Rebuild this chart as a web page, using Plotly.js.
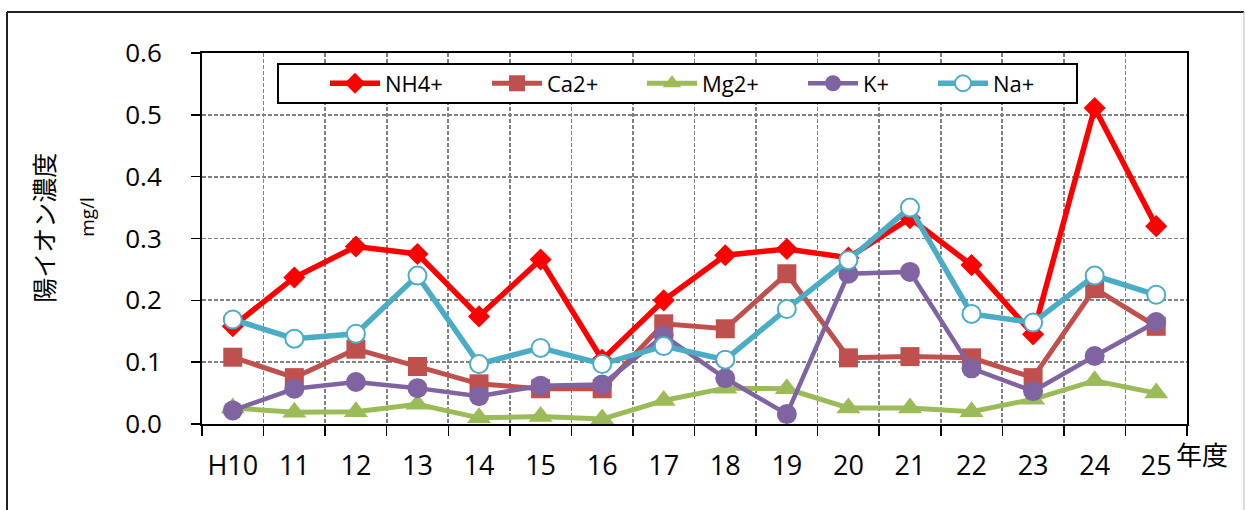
<!DOCTYPE html>
<html>
<head>
<meta charset="utf-8">
<script src="https://cdn.plot.ly/plotly-3.0.1.min.js"></script>
<style>
html,body{margin:0;padding:0;background:#fff;}
#chart{width:1245px;height:510px;}
</style>
</head>
<body>
<div id="chart"></div>
<script>
const categories = ['H10','11','12','13','14','15','16','17','18','19','20','21','22','23','24','25'];
const nh4 = [0.158, 0.237, 0.287, 0.275, 0.174, 0.266, 0.104, 0.200, 0.273, 0.283, 0.269, 0.333, 0.257, 0.145, 0.511, 0.320];
const ca2 = [0.108, 0.075, 0.121, 0.093, 0.065, 0.057, 0.057, 0.162, 0.154, 0.243, 0.107, 0.109, 0.107, 0.075, 0.219, 0.158];
const mg2 = [0.026, 0.019, 0.020, 0.032, 0.010, 0.012, 0.008, 0.038, 0.058, 0.057, 0.026, 0.026, 0.020, 0.040, 0.070, 0.050];
const kp  = [0.022, 0.057, 0.068, 0.058, 0.045, 0.062, 0.064, 0.143, 0.074, 0.016, 0.243, 0.246, 0.090, 0.053, 0.110, 0.165];
const nap = [0.169, 0.138, 0.146, 0.240, 0.097, 0.123, 0.097, 0.126, 0.104, 0.186, 0.265, 0.350, 0.178, 0.164, 0.240, 0.209];
const seriesNames = ['NH4+', 'Ca2+', 'Mg2+', 'K+', 'Na+'];
const yTitle = '陽イオン濃度';
const yUnit = 'mg/l';
const xUnit = '年度';

const traces = [
  {name: seriesNames[0], y: nh4, legend: 'legend',
   line: {color: '#FF0000', width: 5.5},
   marker: {symbol: 'diamond', size: 17, color: '#FF0000', line: {width: 0}}},
  {name: seriesNames[1], y: ca2, legend: 'legend2',
   line: {color: '#C0504D', width: 5},
   marker: {symbol: 'square', size: 19, color: '#C0504D', line: {width: 0}}},
  {name: seriesNames[2], y: mg2, legend: 'legend3',
   line: {color: '#9BBB59', width: 5},
   marker: {symbol: 'triangle-up', size: 21, color: '#9BBB59', line: {width: 0}}},
  {name: seriesNames[3], y: kp, legend: 'legend4',
   line: {color: '#8064A2', width: 4.5},
   marker: {symbol: 'circle', size: 20, color: '#8064A2', line: {width: 0}}},
  {name: seriesNames[4], y: nap, legend: 'legend5',
   line: {color: '#4BACC6', width: 5.5},
   marker: {symbol: 'circle', size: 18, color: '#FFFFFF', line: {color: '#4BACC6', width: 2}}}
].map(t => Object.assign({type: 'scatter', mode: 'lines+markers', x: categories, cliponaxis: false}, t));

// pixel helpers for layout placement (plot area 202..1187 x, 53..424.5 y)
const L = 202, R = 1187, T = 53, B = 424.5;
const px = v => (v - L) / (R - L);
const py = v => (B - v) / (B - T);

function leg(xpix) {
  return {orientation: 'h', x: px(xpix), xanchor: 'left', y: py(83.5), yanchor: 'middle',
    bgcolor: 'rgba(0,0,0,0)', borderwidth: 0, itemwidth: 50,
    font: {family: 'Open Sans, sans-serif', size: 22, color: '#000'}};
}

const gridDash = '4px,2px';
const layout = {
  width: 1245, height: 510,
  margin: {l: L, r: 1245 - R, t: T, b: 510 - B, pad: 0},
  paper_bgcolor: '#fff', plot_bgcolor: '#fff',
  showlegend: true,
  legend: leg(325), legend2: leg(487), legend3: leg(642), legend4: leg(803), legend5: leg(933),
  xaxis: {
    type: 'category', tickson: 'boundaries', range: [-0.5, categories.length - 0.5], autorange: false,
    showgrid: true, gridcolor: '#808080', gridwidth: 1.7, griddash: gridDash,
    showline: true, linecolor: '#000', linewidth: 2, mirror: true,
    ticks: 'outside', ticklen: 10, tickwidth: 1.5, tickcolor: '#000',
    tickangle: 0, ticklabelstandoff: 17,
    tickfont: {family: 'Open Sans, sans-serif', size: 27, color: '#000'},
    zeroline: false, fixedrange: true
  },
  yaxis: {
    range: [0, 0.6], autorange: false, dtick: 0.1, tick0: 0, tickformat: '.1f',
    showgrid: true, gridcolor: '#808080', gridwidth: 1.7, griddash: gridDash,
    showline: true, linecolor: '#000', linewidth: 2, mirror: true,
    ticks: 'outside', ticklen: 9, tickwidth: 1.5, tickcolor: '#000',
    ticklabelstandoff: 24,
    tickfont: {family: 'Open Sans, sans-serif', size: 26, color: '#000'},
    zeroline: false, fixedrange: true
  },
  shapes: [
    {type: 'rect', xref: 'paper', yref: 'paper', x0: px(278), x1: px(1077), y0: py(103), y1: py(64),
     line: {color: '#000', width: 2}, fillcolor: '#fff', layer: 'above'},
    {type: 'line', xref: 'paper', yref: 'paper', x0: px(7), x1: px(7), y0: py(12), y1: py(520),
     line: {color: '#222', width: 2}},
    {type: 'line', xref: 'paper', yref: 'paper', x0: px(7), x1: px(1244), y0: py(12), y1: py(12),
     line: {color: '#222', width: 2}},
    {type: 'line', xref: 'paper', yref: 'paper', x0: px(1244), x1: px(1244), y0: py(12), y1: py(520),
     line: {color: '#cfcfcf', width: 1.5}}
  ],
  annotations: [
    {text: yTitle, xref: 'paper', yref: 'paper', x: px(43), y: py(228), xanchor: 'center', yanchor: 'middle',
     textangle: -90, showarrow: false, font: {family: 'Noto Sans CJK JP, sans-serif', size: 25, color: '#000'}},
    {text: yUnit, xref: 'paper', yref: 'paper', x: px(87), y: py(217), xanchor: 'center', yanchor: 'middle',
     textangle: -90, showarrow: false, font: {family: 'Open Sans, sans-serif', size: 19, color: '#000'}},
    {text: xUnit, xref: 'paper', yref: 'paper', x: px(1174), y: py(454), xanchor: 'left', yanchor: 'middle',
     showarrow: false, font: {family: 'Noto Sans CJK JP, sans-serif', size: 26, color: '#000'}}
  ]
};

Plotly.newPlot('chart', traces, layout, {displayModeBar: false, staticPlot: true});
</script>
</body>
</html>
